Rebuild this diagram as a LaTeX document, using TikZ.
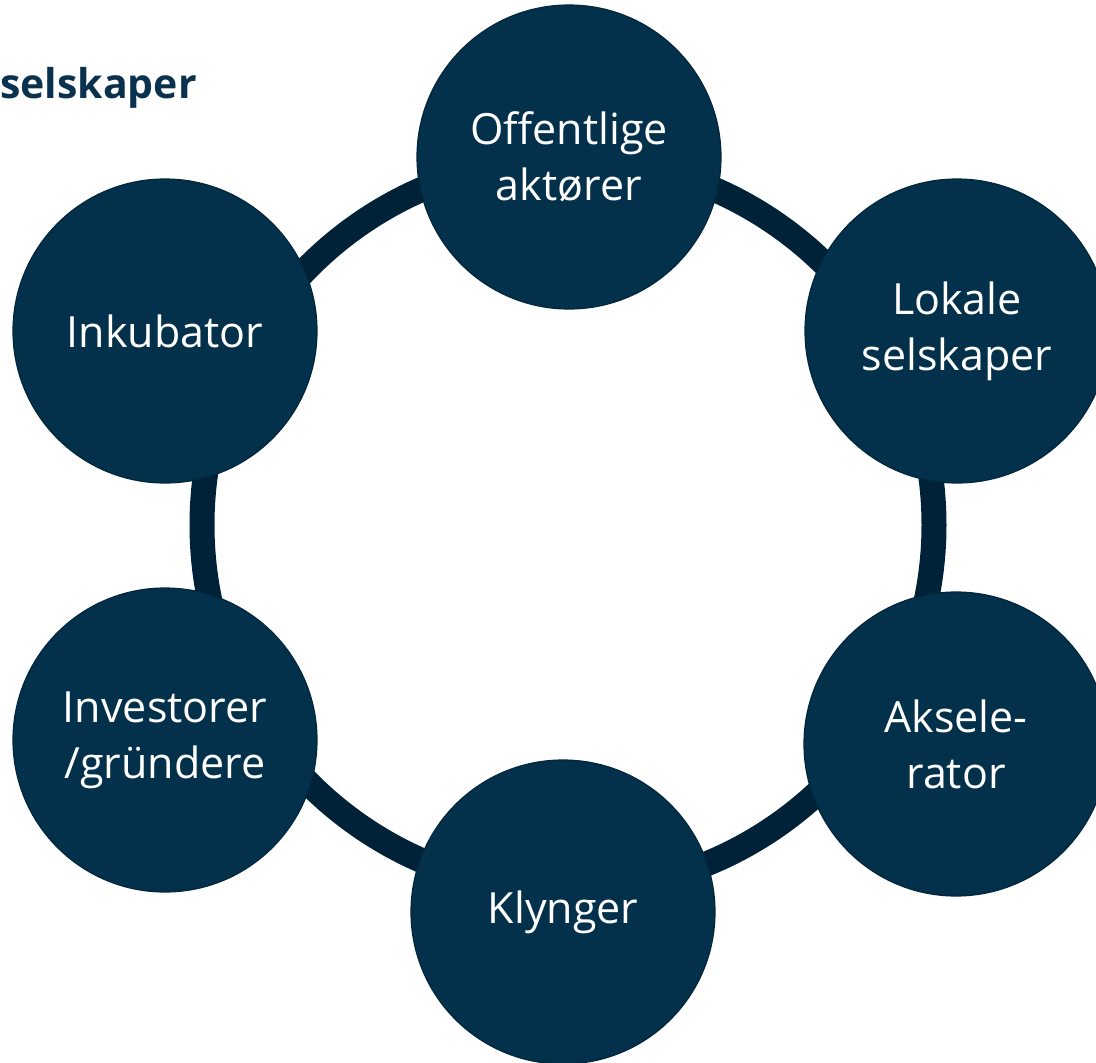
\documentclass[tikz,border=0pt]{standalone}
\usepackage{fontspec}
\setmainfont{Open Sans}
\definecolor{nodefill}{RGB}{3,48,74}
\definecolor{nodeedge}{RGB}{2,38,60}
\definecolor{ringcol}{RGB}{0,34,56}
\definecolor{titlecol}{RGB}{10,50,78}
\begin{document}
\begin{tikzpicture}[x=1pt,y=-1pt,
  actor/.style={circle, fill=nodefill, draw=nodeedge, line width=1.2pt,
    minimum size=304pt, inner sep=0pt, text=white, align=center,
    font=\fontsize{43}{56}\selectfont},
  ring/.style={draw=ringcol, line width=25pt}]
\useasboundingbox (0,0) rectangle (1096,1063);
\clip (0,0) rectangle (1096,1063);
\node[fill=white, minimum width=1096pt, minimum height=1063pt, inner sep=0pt, anchor=north west] (bg) at (0,0) {};
\coordinate (c) at (568,525);
\draw[ring] (c) circle[radius=366pt];
\node[actor] (off) at (569,157) {Offentlige\\akt\o rer};
\node[actor] (lok) at (957,331) {Lokale\\selskaper};
\node[actor] (aks) at (956,744) {Aksele-\\rator};
\node[actor] (kly) at (563,912) {Klynger};
\node[actor] (inv) at (165,740) {Investorer\\/gründere};
\node[actor] (ink) at (165,331) {Inkubator};
\node[anchor=base west, inner sep=0pt, text=titlecol,
  font=\fontsize{41}{50}\selectfont\bfseries] (title) at (0,98) {selskaper};
\end{tikzpicture}
\end{document}
